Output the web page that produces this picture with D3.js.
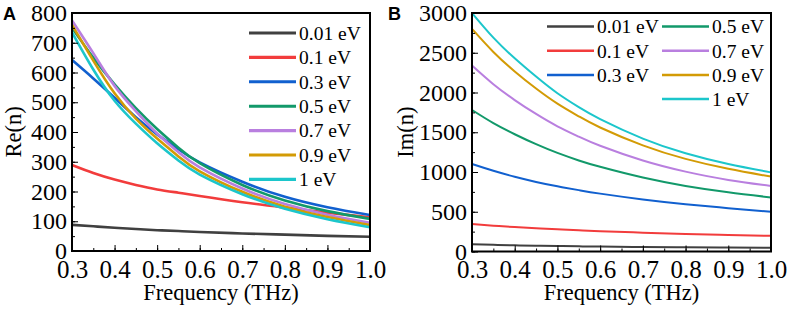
<!DOCTYPE html>
<html>
<head>
<meta charset="utf-8">
<script src="https://cdn.jsdelivr.net/npm/d3@7"></script>
<style>
  body { margin: 0; background: #fff; }
  .axis path, .axis line { stroke: #000; }
</style>
</head>
<body>
<div id="chart"></div>
<script>
const freq = [0.3, 0.35, 0.4, 0.45, 0.5, 0.55, 0.6, 0.7, 0.8, 0.9, 1.0];
const labels = ["0.01 eV", "0.1 eV", "0.3 eV", "0.5 eV", "0.7 eV", "0.9 eV", "1 eV"];
const colors = ["#404040", "#f23c3c", "#1160cf", "#12996a", "#b97fdf", "#d39b05", "#1cc6cb"];

// Re(n), panel A
const re001 = [88, 83, 78, 74, 70, 67, 64, 59, 55, 51, 48];
const re01 = [289, 262, 240, 222, 207, 196, 185, 164, 146, 129, 113];
const re03 = [642, 580, 515, 450, 392, 342, 298, 233, 182, 147, 121];
const re05 = [750, 650, 560, 480, 410, 347, 295, 222, 170, 134, 108];
const re07 = [775, 665, 555, 470, 395, 332, 281, 210, 158, 122, 95];
const re09 = [760, 640, 530, 445, 378, 318, 268, 199, 149, 114, 87];
const re1 = [735, 610, 505, 428, 362, 304, 257, 191, 142, 107, 80];

// Im(n), panel B
const im001 = [90, 84, 78, 73, 69, 65, 62, 57, 53, 50, 47];
const im01 = [345, 325, 307, 292, 279, 267, 256, 237, 221, 208, 197];
const im03 = [1100, 1015, 940, 875, 820, 772, 728, 655, 595, 545, 500];
const im05 = [1780, 1615, 1475, 1350, 1240, 1145, 1065, 930, 825, 745, 680];
const im07 = [2340, 2105, 1905, 1730, 1575, 1445, 1330, 1145, 1005, 900, 825];
const im09 = [2800, 2510, 2265, 2050, 1860, 1700, 1560, 1335, 1165, 1040, 942];
const im1 = [3000, 2690, 2430, 2200, 1990, 1815, 1665, 1420, 1235, 1100, 995];

const reSeries = [re001, re01, re03, re05, re07, re09, re1];
const imSeries = [im001, im01, im03, im05, im07, im09, im1];

const SERIF = "Liberation Serif";
const W = 789, H = 309;
const svg = d3.select("#chart").append("svg").attr("width", W).attr("height", H)
  .style("display", "block");

function panel({ left, right, top, bottom, yMax, yMajor, series, width, letter, letterX, yTitle, yTitleX, legend }) {
  const x = d3.scaleLinear().domain([0.3, 1.0]).range([left, right]);
  const y = d3.scaleLinear().domain([0, yMax]).range([bottom, top]);
  const g = svg.append("g");

  const line = d3.line().x((d, i) => x(freq[i])).y((d) => y(d)).curve(d3.curveNatural);
  g.selectAll("path.series")
    .data(series)
    .join("path")
    .attr("class", "series")
    .attr("fill", "none")
    .attr("stroke", (d, i) => colors[i])
    .attr("stroke-width", width)
    .attr("d", line);

  // minor ticks
  const xMinor = d3.range(0.3, 1.0001, 0.05);
  const yMinor = d3.range(0, yMax + 1, yMajor / 2);
  g.append("g").attr("class", "axis").attr("transform", `translate(0,${bottom})`)
    .call(d3.axisBottom(x).tickValues(xMinor).tickSize(-3).tickFormat(""))
    .call((a) => a.select(".domain").remove());
  g.append("g").attr("class", "axis").attr("transform", `translate(${left},0)`)
    .call(d3.axisLeft(y).tickValues(yMinor).tickSize(-3).tickFormat(""))
    .call((a) => a.select(".domain").remove());

  // major ticks + labels
  g.append("g").attr("class", "axis").attr("transform", `translate(0,${bottom})`)
    .call(d3.axisBottom(x).tickValues(d3.range(0.3, 1.0001, 0.1)).tickSize(-6).tickPadding(9).tickFormat(d3.format(".1f")))
    .call((a) => a.select(".domain").remove())
    .call((a) => a.selectAll("text").attr("font-size", 25).attr("font-family", SERIF).attr("fill", "#000"));
  g.append("g").attr("class", "axis").attr("transform", `translate(${left},0)`)
    .call(d3.axisLeft(y).tickValues(d3.range(0, yMax + 1, yMajor)).tickSize(-6).tickPadding(5).tickFormat(d3.format("d")))
    .call((a) => a.select(".domain").remove())
    .call((a) => a.selectAll("text").attr("font-size", 24).attr("font-family", SERIF).attr("fill", "#000"));

  g.append("rect")
    .attr("x", left).attr("y", top)
    .attr("width", right - left).attr("height", bottom - top)
    .attr("fill", "none").attr("stroke", "#000").attr("stroke-width", 2);

  g.append("text")
    .attr("x", (left + right) / 2).attr("y", 300)
    .attr("text-anchor", "middle").attr("font-size", 22.5).attr("font-family", SERIF)
    .text("Frequency (THz)");

  g.append("text")
    .attr("transform", `translate(${yTitleX},${(top + bottom) / 2}) rotate(-90)`)
    .attr("text-anchor", "middle").attr("font-size", 22.5).attr("font-family", SERIF)
    .text(yTitle);

  g.append("text")
    .attr("x", letterX).attr("y", 20)
    .attr("font-family", "Liberation Sans")
    .attr("font-weight", "bold").attr("font-size", 18)
    .text(letter);

  const lg = g.append("g");
  const items = lg.selectAll("g").data(legend).join("g")
    .attr("transform", (d) => `translate(${d.x},${d.y})`);
  items.append("line")
    .attr("x1", 0).attr("x2", (d) => d.len)
    .attr("stroke", (d) => colors[d.i]).attr("stroke-width", width + 0.5);
  items.append("text")
    .attr("x", (d) => d.len + 3).attr("dy", "0.35em")
    .attr("font-size", 19.5).attr("font-family", SERIF)
    .text((d) => labels[d.i]);
}

panel({
  left: 72, right: 370, top: 13, bottom: 251,
  yMax: 800, yMajor: 100, series: reSeries, width: 2.6,
  letter: "A", letterX: 3, yTitle: "Re(n)", yTitleX: 21,
  legend: labels.map((l, i) => ({ i, x: 249, y: 33 + i * 24.4, len: 47 })),
});

panel({
  left: 472, right: 771, top: 13, bottom: 251.5,
  yMax: 3000, yMajor: 500, series: imSeries, width: 2,
  letter: "B", letterX: 388, yTitle: "Im(n)", yTitleX: 413,
  legend: labels.map((l, i) => i < 3
    ? { i, x: 547, y: 26.5 + i * 24.2, len: 47 }
    : { i, x: 662, y: 26.5 + (i - 3) * 24.2, len: 47 }),
});
</script>
</body>
</html>
